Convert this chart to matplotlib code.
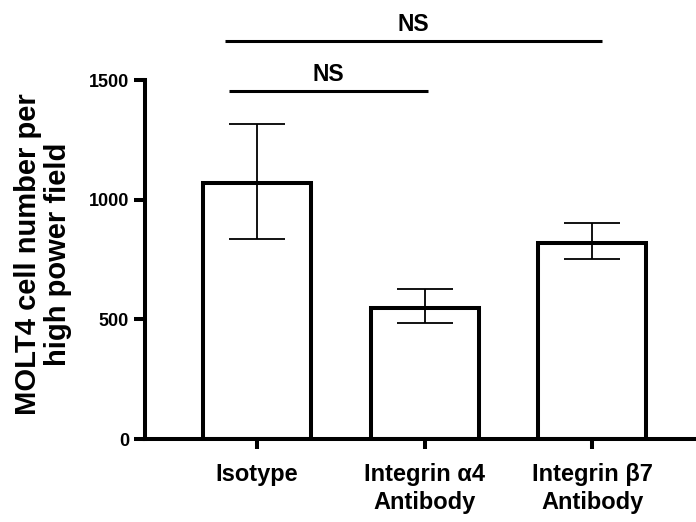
import matplotlib
matplotlib.use("Agg")
import matplotlib.pyplot as plt

plt.rcParams.update({
    "font.family": "Liberation Sans",
    "font.weight": "bold",
})

groups = ["Isotype", "Integrin \u03b14\nAntibody", "Integrin \u03b27\nAntibody"]
means = [1068, 548, 820]
err_low = [836, 485, 752]
err_high = [1316, 627, 903]
y_ticks = [0, 500, 1000, 1500]

# significance brackets: (x start, x end, y of line, label)
brackets = [(-0.17, 1.02, 1454, "NS"), (-0.19, 2.06, 1663, "NS")]

fig = plt.figure(figsize=(6.96, 5.22), dpi=100)
ax = fig.add_axes([0.2083, 0.159, 0.7917, 0.6877])

x = list(range(len(groups)))
yerr = [[m - lo for m, lo in zip(means, err_low)],
        [hi - m for m, hi in zip(means, err_high)]]

ax.bar(x, means, width=0.645, color="white", edgecolor="black", linewidth=2.9, zorder=2)
ax.errorbar(x, means, yerr=yerr, fmt="none", ecolor="black", elinewidth=1.3,
            capsize=20, capthick=1.3, zorder=3)

ax.set_xlim(-0.669, 2.62)
ax.set_ylim(0, 1500)
ax.set_yticks(y_ticks)
ax.set_xticks(x)
ax.set_xticklabels(groups, fontsize=17, fontweight="bold", linespacing=1.3)
ax.tick_params(axis="y", labelsize=13, width=2.9, length=8, pad=3.5)
ax.tick_params(axis="x", width=2.9, length=7, pad=10)

for s in ["top", "right"]:
    ax.spines[s].set_visible(False)
for s in ["left", "bottom"]:
    ax.spines[s].set_linewidth(2.9)

for x0, x1, y, lab in brackets:
    ax.plot([x0, x1], [y, y], color="black", linewidth=2.2, clip_on=False,
            solid_capstyle="butt")
    ax.text((x0 + x1) / 2, y + 42, lab, ha="center", va="baseline",
            fontsize=16.5, fontweight="bold", clip_on=False)

fig.text(43 / 696, 1 - 254 / 522, "MOLT4 cell number per\nhigh power field",
         rotation=90, ha="center", va="center", fontsize=21, fontweight="bold",
         multialignment="center", linespacing=1.12)

fig.savefig("out.png", dpi=100)
